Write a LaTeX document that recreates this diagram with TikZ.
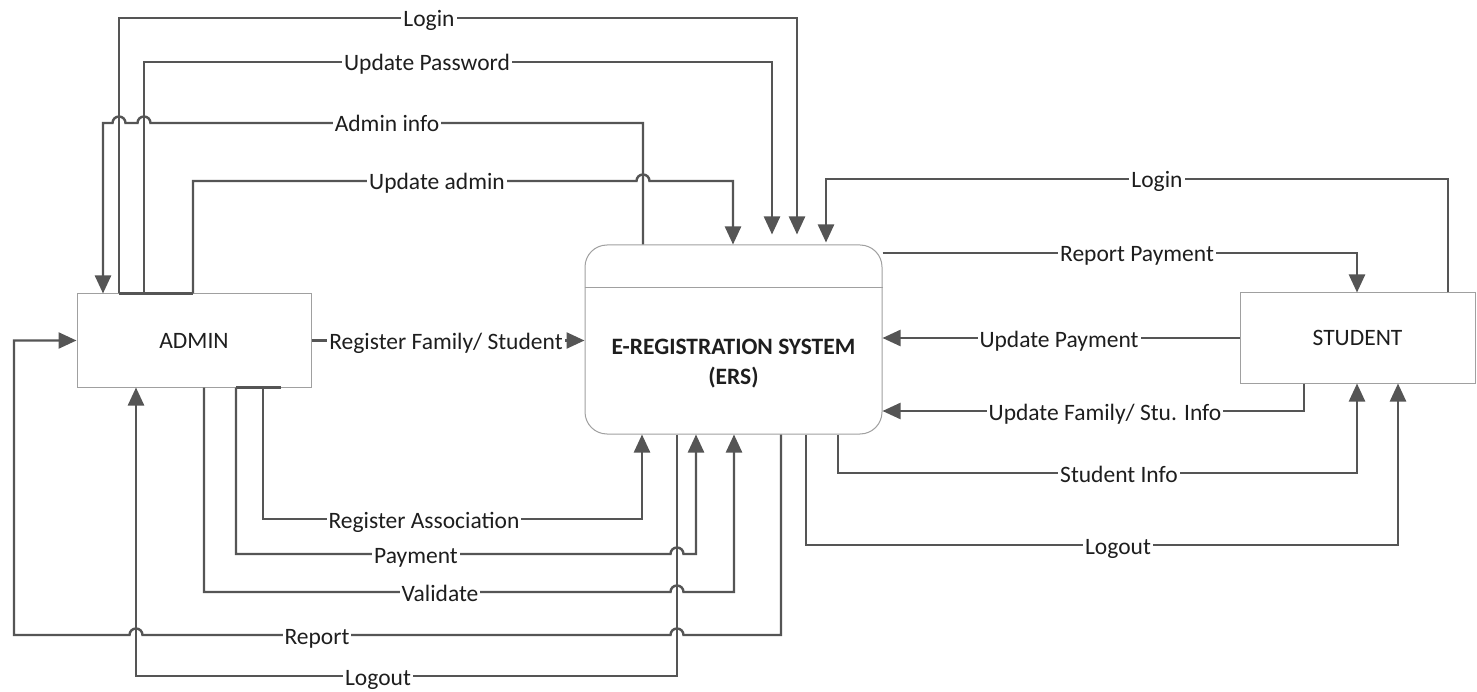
\documentclass[tikz,border=0pt]{standalone}
\usepackage{fontspec}
\setmainfont{Carlito}
\usetikzlibrary{arrows.meta}
\definecolor{lineC}{HTML}{555555}
\definecolor{boxC}{HTML}{A0A0A0}
\definecolor{txtC}{HTML}{1E1E1E}
\begin{document}
\begin{tikzpicture}[x=1pt,y=-1pt,
  flow/.style={draw=lineC, line width=2.4pt, -{Triangle[length=18pt,width=16pt]}},
  wire/.style={draw=lineC, line width=2.4pt},
  ent/.style={draw=boxC, line width=1pt, fill=white, text=txtC,
    font=\fontsize{23.5}{28}\selectfont},
  lab/.style={fill=white, inner xsep=2pt, inner ysep=0pt, anchor=base, text=txtC,
    font=\fontsize{23.5}{28}\selectfont}
]
\useasboundingbox (0,0) rectangle (1477,692);
\fill[white] (0,0) rectangle (1477,692);

% entities
\node[ent, minimum width=234pt, minimum height=93pt] (admin) at (194,340.5) {ADMIN};
\node[ent, minimum width=235pt, minimum height=90pt] (student) at (1357.5,338) {STUDENT};
\node[ent, rounded corners=22pt, minimum width=297pt, minimum height=189pt] (ers) at (733.5,339.5) {};
\draw[boxC, line width=1pt] (ers.west |- 0,288) -- (ers.east |- 0,288);
\node[text=txtC, align=center, font=\fontsize{23.5}{30}\selectfont\bfseries] (erstitle) at (733.5,364) {E-REGISTRATION SYSTEM\\(ERS)};

% ADMIN top flows
\draw[wire] (119,0 |- admin.north) -- (193,0 |- admin.north);
\draw[flow, shorten >=10pt] (119,0 |- admin.north) -- (119,18) -- (797,18) -- (797,0 |- ers.north);
\draw[flow, shorten >=10pt] (144,0 |- admin.north) -- (144,62) -- (772,62) -- (772,0 |- ers.north);
\draw[flow] (643,0 |- ers.north) -- (643,123) -- (150.5,123)
   arc[start angle=0,end angle=180,radius=6.5pt] -- (125.5,123)
   arc[start angle=0,end angle=180,radius=6.5pt] -- (103,123) -- (103,0 |- admin.north);
\draw[flow] (193,0 |- admin.north) -- (193,181) -- (636.5,181)
   arc[start angle=180,end angle=0,radius=6.5pt] -- (733,181) -- (733,0 |- ers.north);

% STUDENT flows
\draw[flow, shorten >=2pt] (1448,0 |- student.north) -- (1448,179) -- (826,179) -- (826,0 |- ers.north);
\draw[flow] (ers.east |- 0,253) -- (1357,253) -- (1357,0 |- student.north);
\draw[flow] (student.west) -- (ers.east |- student.west);
\draw[flow] (1304,0 |- student.south) -- (1304,411) -- (ers.east |- 0,411);
\draw[flow] (838,0 |- ers.south) -- (838,473) -- (1357,473) -- (1357,0 |- student.south);
\draw[flow] (806,0 |- ers.south) -- (806,545) -- (1398,545) -- (1398,0 |- student.south);

% ADMIN side / bottom flows
\draw[flow] (admin.east) -- (ers.west |- admin.east);
\draw[wire] (236,0 |- admin.south) -- (281,0 |- admin.south);
\draw[flow] (263,0 |- admin.south) -- (263,519) -- (642,519) -- (642,0 |- ers.south);
\draw[flow] (236,0 |- admin.south) -- (236,554) -- (670.5,554)
   arc[start angle=180,end angle=0,radius=6.5pt] -- (696,554) -- (696,0 |- ers.south);
\draw[flow] (204,0 |- admin.south) -- (204,592) -- (670.5,592)
   arc[start angle=180,end angle=0,radius=6.5pt] -- (734,592) -- (734,0 |- ers.south);
\draw[flow] (781,0 |- ers.south) -- (781,635) -- (683.5,635)
   arc[start angle=0,end angle=180,radius=6.5pt] -- (142.5,635)
   arc[start angle=0,end angle=180,radius=6.5pt] -- (14,635) -- (14,0 |- admin.west) -- (admin.west);
\draw[flow] (677,0 |- ers.south) -- (677,676) -- (136,676) -- (136,0 |- admin.south);

% labels
\node[lab] (l1) at (429,27) {Login};
\node[lab] (l2) at (427,71) {Update Password};
\node[lab] (l3) at (387,132) {Admin info};
\node[lab] (l4) at (437,190) {Update admin};
\node[lab] (l5) at (1157,188) {Login};
\node[lab] (l6) at (1137,262) {Report Payment};
\node[lab] (l7) at (1059,348) {Update Payment};
\node[lab] (l8) at (1105,420) {Update Family/ Stu. Info};
\node[lab] (l9) at (1119,482) {Student Info};
\node[lab] (l10) at (1118,554) {Logout};
\node[lab] (l11) at (446,349) {Register Family/ Student};
\node[lab] (l12) at (424,528) {Register Association};
\node[lab] (l13) at (416,563) {Payment};
\node[lab] (l14) at (440,601) {Validate};
\node[lab] (l15) at (317,644) {Report};
\node[lab] (l16) at (378,685) {Logout};
\end{tikzpicture}
\end{document}
